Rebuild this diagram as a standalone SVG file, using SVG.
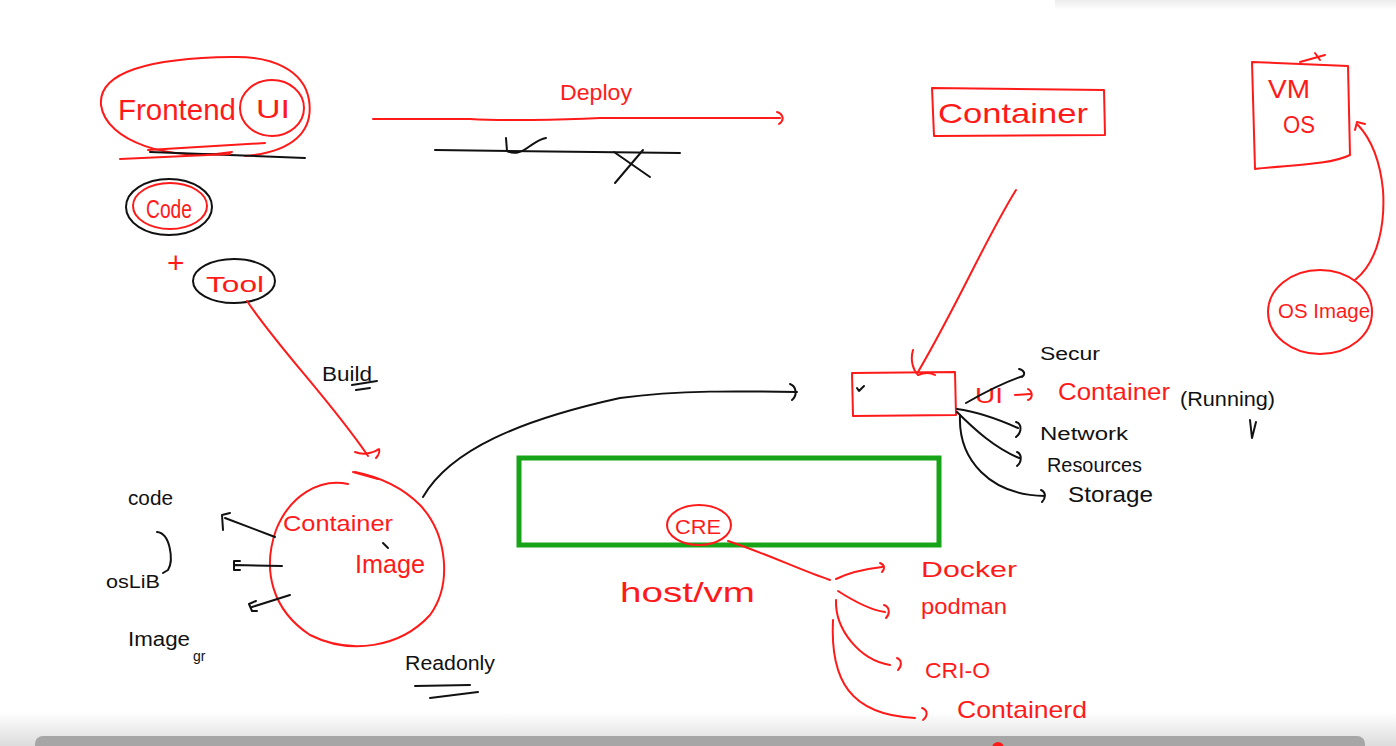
<svg xmlns="http://www.w3.org/2000/svg" width="1396" height="746" viewBox="0 0 1396 746">
<defs>
<linearGradient id="shadowB" x1="0" y1="0" x2="0" y2="1">
<stop offset="0" stop-color="#ffffff"/>
<stop offset="1" stop-color="#dcdcdc"/>
</linearGradient>
<linearGradient id="shadowT" x1="0" y1="0" x2="0" y2="1">
<stop offset="0" stop-color="#ececec"/>
<stop offset="1" stop-color="#ffffff"/>
</linearGradient>
</defs>
<style>
.r{fill:none;stroke:#ff1a1a;stroke-width:2;stroke-linecap:round;stroke-linejoin:round}
.k{fill:none;stroke:#111;stroke-width:2;stroke-linecap:round;stroke-linejoin:round}
.g{fill:none;stroke:#18a418;stroke-width:5}
.tr{fill:#ff1a1a;font-family:"Liberation Sans",Arial,sans-serif}
.tk{fill:#111;font-family:"Liberation Sans",Arial,sans-serif}
</style>
<rect width="1396" height="746" fill="#ffffff"/>
<rect x="1055" y="0" width="341" height="10" fill="url(#shadowT)"/>
<rect x="0" y="712" width="1396" height="34" fill="url(#shadowB)"/>
<rect x="35" y="736" width="1330" height="20" rx="8" fill="#a6a6a6"/>
<circle cx="998" cy="748" r="6" fill="#ff1a1a"/>

<g id="frontend">
<path class="r" d="M232,152 C170,162 106,142 101,105 C98,72 150,58 232,57 C272,56 304,70 309,100 C314,132 292,152 245,156"/>
<ellipse class="r" cx="272" cy="108" rx="32" ry="28"/>
<text class="tr" x="118" y="120" font-size="30" textLength="118" lengthAdjust="spacingAndGlyphs">Frontend</text>
<text class="tr" x="256" y="118" font-size="26" textLength="34" lengthAdjust="spacingAndGlyphs">UI</text>
<path class="k" d="M150,152 L305,158"/>
<path class="r" d="M120,159 L230,154"/>
<path class="r" d="M148,150 L265,143"/>
</g>

<g id="code">
<ellipse class="k" cx="169" cy="207" rx="43" ry="28"/>
<ellipse class="r" cx="170" cy="206" rx="37" ry="23"/>
<text class="tr" x="146" y="218" font-size="26" textLength="46" lengthAdjust="spacingAndGlyphs">Code</text>
<text class="tr" x="167" y="273" font-size="30">+</text>
</g>

<g id="tool">
<ellipse class="k" cx="234" cy="281" rx="41" ry="22"/>
<text class="tr" x="206" y="292" font-size="22" textLength="58" lengthAdjust="spacingAndGlyphs">Tool</text>
<text class="tk" x="322" y="381" font-size="20" textLength="50" lengthAdjust="spacingAndGlyphs">Build</text>
<path class="k" d="M352,385 L377,381 M356,390 L370,388"/>
</g>

<g id="container-image">
<path class="r" d="M348,484 C320,478 290,495 276,530 C262,570 272,610 310,635 C350,655 400,648 430,615 C452,585 448,535 420,505 C405,490 385,478 355,472"/>
<text class="tr" x="283" y="531" font-size="22" textLength="110" lengthAdjust="spacingAndGlyphs">Container</text>
<text class="tr" x="355" y="573" font-size="26" textLength="70" lengthAdjust="spacingAndGlyphs">Image</text>
<path class="k" d="M383,543 L388,548"/>
<path class="k" d="M275,537 L225,518 M223,530 L222,515 L230,513"/>
<path class="k" d="M282,566 L235,565 M240,561 L234,561 L234,570 L240,570"/>
<path class="k" d="M290,595 L252,607 M256,601 L249,604 L252,611 L257,611"/>
<text class="tk" x="128" y="505" font-size="20" textLength="45" lengthAdjust="spacingAndGlyphs">code</text>
<path class="k" d="M157,532 C170,533 174,560 168,570 L163,573"/>
<text class="tk" x="106" y="588" font-size="18" textLength="54" lengthAdjust="spacingAndGlyphs">osLiB</text>
<text class="tk" x="128" y="646" font-size="20" textLength="62" lengthAdjust="spacingAndGlyphs">Image</text>
<text class="tk" x="193" y="661" font-size="14">gr</text>
<text class="tk" x="405" y="670" font-size="20" textLength="90" lengthAdjust="spacingAndGlyphs">Readonly</text>
<path class="k" d="M415,686 L470,685 M430,698 L478,692"/>
</g>

<g id="deploy">
<text class="tr" x="560" y="100" font-size="22" textLength="72" lengthAdjust="spacingAndGlyphs">Deploy</text>
<path class="k" d="M435,150 L680,153"/>
<path class="k" d="M506,138 L507,151 C515,155 522,152 530,146 C536,142 540,139 546,138"/>
<path class="k" d="M614,152 L650,177 M615,183 L643,150"/>
</g>

<g id="container">
<path class="r" d="M932,88 L1104,90 L1105,135 L934,136 Z"/>
<text class="tr" x="938" y="123" font-size="28" textLength="150" lengthAdjust="spacingAndGlyphs">Container</text>
</g>

<g id="vm-os">
<path class="r" d="M1252,62 L1348,66 L1350,155 C1330,165 1290,165 1255,169 Z"/>
<path class="r" d="M1300,62 L1325,55 M1315,53 L1320,60"/>
<text class="tr" x="1268" y="98" font-size="26" textLength="42" lengthAdjust="spacingAndGlyphs">VM</text>
<text class="tr" x="1283" y="133" font-size="24" textLength="32" lengthAdjust="spacingAndGlyphs">OS</text>
</g>

<g id="os-image">
<ellipse class="r" cx="1320" cy="312" rx="52" ry="42"/>
<text class="tr" x="1278" y="318" font-size="20" textLength="92" lengthAdjust="spacingAndGlyphs">OS Image</text>
</g>

<g id="running-container">
<path class="r" d="M852,373 L955,372 L956,415 L853,416 Z"/>
<path class="k" d="M857,388 L859,391 L864,386"/>
<text class="tr" x="975" y="403" font-size="22" textLength="28" lengthAdjust="spacingAndGlyphs">UI</text>
<path class="r" d="M1015,395 L1030,394 M1028,389 C1033,392 1033,398 1028,400"/>
<text class="tr" x="1058" y="400" font-size="24" textLength="112" lengthAdjust="spacingAndGlyphs">Container</text>
<text class="tk" x="1180" y="406" font-size="20" textLength="95" lengthAdjust="spacingAndGlyphs">(Running)</text>
<path class="k" d="M1250,420 L1252,438 L1256,422"/>
<text class="tk" x="1040" y="360" font-size="18" textLength="60" lengthAdjust="spacingAndGlyphs">Secur</text>
<text class="tk" x="1040" y="440" font-size="18" textLength="88" lengthAdjust="spacingAndGlyphs">Network</text>
<text class="tk" x="1047" y="472" font-size="20" textLength="95" lengthAdjust="spacingAndGlyphs">Resources</text>
<text class="tk" x="1068" y="502" font-size="22" textLength="85" lengthAdjust="spacingAndGlyphs">Storage</text>
</g>

<g id="host-vm">
<rect class="g" x="519" y="458" width="420" height="87"/>
<ellipse class="r" cx="699" cy="525" rx="32" ry="20"/>
<text class="tr" x="675" y="534" font-size="20" textLength="46" lengthAdjust="spacingAndGlyphs">CRE</text>
<text class="tr" x="620" y="602" font-size="28" textLength="135" lengthAdjust="spacingAndGlyphs">host/vm</text>
</g>

<g id="runtimes">
<text class="tr" x="921" y="577" font-size="22" textLength="96" lengthAdjust="spacingAndGlyphs">Docker</text>
<text class="tr" x="921" y="614" font-size="22" textLength="86" lengthAdjust="spacingAndGlyphs">podman</text>
<text class="tr" x="925" y="678" font-size="22" textLength="65" lengthAdjust="spacingAndGlyphs">CRI-O</text>
<text class="tr" x="957" y="718" font-size="24" textLength="130" lengthAdjust="spacingAndGlyphs">Containerd</text>
</g>

<g id="connectors">
<path class="r" d="M373,119 L470,119 C500,121 560,120 600,118 L780,118 M777,112 C783,114 785,120 779,124"/>
<path class="r" d="M247,301 C280,350 330,400 368,456 M355,452 C362,455 372,454 379,449 C380,452 378,456 376,458"/>
<path class="r" d="M353,472 L378,479"/>
<path class="k" d="M423,497 C450,450 520,420 620,398 C680,390 740,391 797,392 M790,384 C796,386 798,395 792,400"/>
<path class="r" d="M1016,190 C985,240 960,300 918,372 M913,350 C910,360 913,370 918,375 C925,372 930,372 935,375"/>
<path class="k" d="M966,403 C985,392 1005,382 1023,376 M1019,369 C1024,370 1026,374 1022,377"/>
<path class="k" d="M957,409 C980,412 1000,420 1018,428 M1016,422 C1022,424 1022,432 1016,437"/>
<path class="k" d="M957,412 C975,430 995,448 1019,458 M1017,452 C1022,454 1022,462 1017,466"/>
<path class="k" d="M960,415 C958,460 990,495 1045,496 M1041,490 C1046,492 1046,498 1042,502"/>
<path class="r" d="M1355,280 C1380,260 1385,220 1383,190 C1380,160 1372,140 1358,125 M1355,130 L1357,122 L1365,124"/>
<path class="r" d="M728,541 C770,555 800,570 830,580"/>
<path class="r" d="M836,579 C850,572 865,569 882,567 M880,563 C885,565 885,569 882,572"/>
<path class="r" d="M838,591 C852,600 870,610 885,612 M884,605 C890,607 890,614 886,618"/>
<path class="r" d="M836,600 C835,630 860,660 890,665 M897,658 C902,660 902,666 898,670"/>
<path class="r" d="M833,620 C830,680 850,715 915,718 M922,708 C928,710 928,716 923,720"/>
</g>
</svg>
